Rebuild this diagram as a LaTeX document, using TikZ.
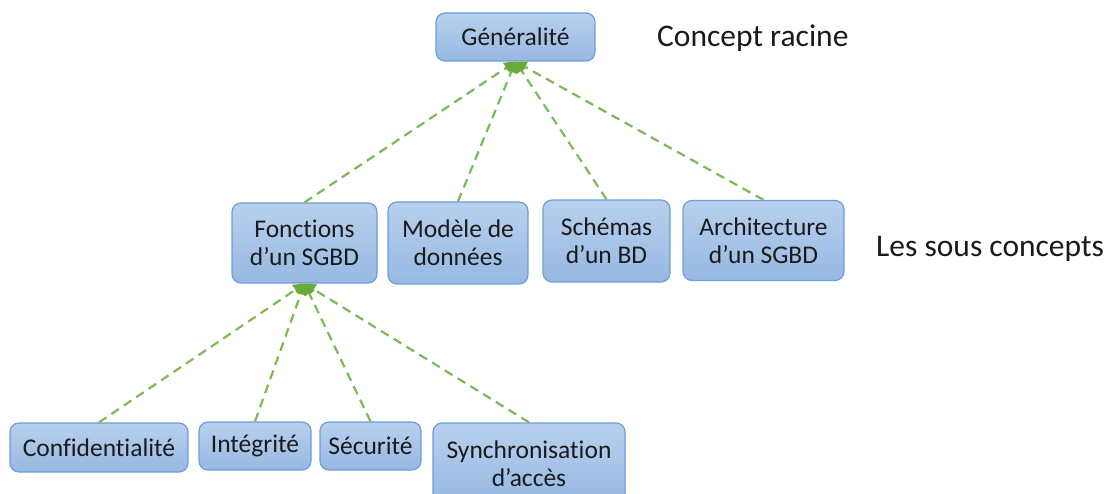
\documentclass[tikz,border=0pt]{standalone}
\usepackage{fontspec}
\setmainfont[Ligatures=NoCommon]{Carlito}
\usetikzlibrary{arrows.meta}
\definecolor{boxtop}{HTML}{B8D0EE}
\definecolor{boxbot}{HTML}{97B8E2}
\definecolor{boxline}{HTML}{6E9ED6}
\definecolor{linkgreen}{HTML}{7DB954}
\definecolor{tipgreen}{HTML}{6AAA3C}
\definecolor{ink}{HTML}{1A1A1A}
\tikzset{
  concept/.style={draw=boxline, line width=1.2pt, rounded corners=9pt,
    top color=boxtop, bottom color=boxbot, inner sep=0pt,
    text=ink, align=center, font=\fontsize{25.5}{28}\selectfont},
  link/.style={draw=linkgreen, line width=2.2pt, dash pattern=on 9pt off 6pt,
    -{Triangle[length=11pt,width=12pt,fill=tipgreen,color=tipgreen,line width=0pt]}},
  caption/.style={anchor=base west, inner sep=0pt, text=ink,
    font=\fontsize{31.5}{34}\selectfont}
}
\begin{document}
\begin{tikzpicture}[x=1pt,y=-1pt]
  \useasboundingbox (0,0) rectangle (1110,494);
  \clip (0,0) rectangle (1110,494);

  % root concept
  \node[concept, minimum width=159pt, minimum height=48pt] (gen) at (515.5,37) {Généralité};

  % sub concepts
  \node[concept, minimum width=145pt, minimum height=80pt] (fonc) at (304.5,243) {Fonctions\\d’un SGBD};
  \node[concept, minimum width=140pt, minimum height=82pt] (mod)  at (458,243)   {Modèle de\\données};
  \node[concept, minimum width=127pt, minimum height=82pt] (sch)  at (606.5,241) {Schémas\\d’un BD};
  \node[concept, minimum width=161pt, minimum height=80pt] (arch) at (763.5,240.5) {Architecture\\d’un SGBD};

  % functions of a DBMS
  \node[concept, minimum width=178pt, minimum height=49pt] (conf)  at (99,447.5) {Confidentialité};
  \node[concept, minimum width=112pt, minimum height=48pt] (integ) at (255,446)   {Intégrité};
  \node[concept, minimum width=101pt, minimum height=48pt] (secu)  at (370.5,446) {Sécurité};
  \node[concept, minimum width=192pt, minimum height=82pt, text depth=0pt] (sync) at (529,464) {Synchronisation\\d’accès};

  % level captions
  \node[caption] (root) at (657,47)  {Concept racine};
  \node[caption] (subs) at (876,257) {Les sous concepts};

  % links from children up to their parent
  \foreach \c in {fonc,mod,sch,arch}
    \draw[link] (\c.north) -- (gen.south);
  \foreach \c in {conf,integ,secu,sync}
    \draw[link] (\c.north) -- (fonc.south);
\end{tikzpicture}
\end{document}
